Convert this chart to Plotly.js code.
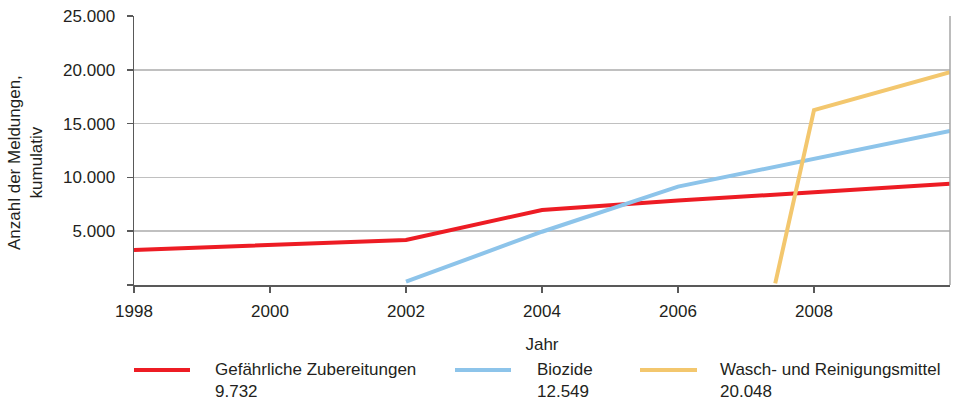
<!DOCTYPE html>
<html>
<head>
<meta charset="utf-8">
<script src="https://cdn.plot.ly/plotly-3.0.1.min.js"></script>
<style>html,body{margin:0;padding:0;background:#fff;}#chart{width:956px;height:400px;}</style>
</head>
<body>
<div id="chart"></div>
<script>
// Data
var seriesNames = ["Gefährliche Zubereitungen", "Biozide", "Wasch- und Reinigungsmittel"];
var seriesTotals = ["9.732", "12.549", "20.048"];
var seriesColors = ["#ED1C24", "#8DC4EA", "#F3C76E"];

var yearsZub = [1998, 2000, 2002, 2004, 2006, 2008, 2010];
var valsZub = [3250, 3720, 4180, 6970, 7850, 8620, 9400];

var yearsBio = [2002, 2004, 2006, 2008, 2010];
var valsBio = [310, 4950, 9140, 11680, 14310];

var yearsWasch = [2007.43, 2008, 2010];
var valsWasch = [150, 16260, 19770];

var xTickVals = [1998, 2000, 2002, 2004, 2006, 2008];
var xTickText = ["1998", "2000", "2002", "2004", "2006", "2008"];
var yTickVals = [0, 5000, 10000, 15000, 20000, 25000];
var yTickText = ["", "5.000", "10.000", "15.000", "20.000", "25.000"];

var font = "Liberation Sans, Arial, sans-serif";
var textColor = "#231f20";
var fs = 17;

var xs = [yearsZub, yearsBio, yearsWasch];
var ys = [valsZub, valsBio, valsWasch];
var traces = [];
for (var i = 0; i < 3; i++) {
  traces.push({
    x: xs[i], y: ys[i], type: "scatter", mode: "lines", name: seriesNames[i],
    line: {color: seriesColors[i], width: 4}, showlegend: false, hoverinfo: "skip"
  });
}

// manual legend layout (pixels converted to paper coords)
var L = 134, R = 950, T = 16, B = 285;
function px(x) { return (x - L) / (R - L); }
function py(y) { return (B - y) / (B - T); }
var legSym = [[134, 190], [455, 511], [640, 697]];
var legTxt = [213, 535, 718];

var shapes = [
  {type: "line", xref: "paper", yref: "paper", x0: 1, x1: 1, y0: 0, y1: 1,
   line: {color: "#a6a6a6", width: 1.5}}
];
var annotations = [
  {xref: "paper", yref: "paper", x: px(25), y: py(163), xanchor: "center", yanchor: "middle",
   text: "Anzahl der Meldungen,<br>kumulativ", textangle: -90, showarrow: false,
   font: {family: font, size: fs, color: textColor}}
];
for (var j = 0; j < 3; j++) {
  shapes.push({type: "line", xref: "paper", yref: "paper",
    x0: px(legSym[j][0]), x1: px(legSym[j][1]), y0: py(370), y1: py(370),
    line: {color: seriesColors[j], width: 4}});
  annotations.push({xref: "paper", yref: "paper", x: px(legTxt[j]), y: py(358),
    xanchor: "left", yanchor: "top", align: "left", showarrow: false,
    text: seriesNames[j] + "<br>" + seriesTotals[j],
    font: {family: font, size: fs, color: textColor}});
}

var layout = {
  width: 956, height: 400,
  margin: {l: L, r: 956 - R, t: T, b: 400 - B},
  paper_bgcolor: "#fff", plot_bgcolor: "#fff",
  font: {family: font, size: fs, color: textColor},
  showlegend: false,
  xaxis: {
    range: [1998, 2010], tickvals: xTickVals, ticktext: xTickText,
    showgrid: false, zeroline: false, showline: true, linecolor: "#595959", linewidth: 1.5,
    ticks: "outside", ticklen: 6, tickcolor: "#595959", tickwidth: 1.5,
    ticklabelstandoff: 4,
    tickfont: {family: font, size: fs, color: textColor},
    title: {text: "Jahr", font: {family: font, size: fs, color: textColor}, standoff: 18},
    fixedrange: true
  },
  yaxis: {
    range: [0, 25000], tickvals: yTickVals, ticktext: yTickText,
    showgrid: true, gridcolor: "#c0c0c0", gridwidth: 1.5, zeroline: false,
    showline: true, linecolor: "#595959", linewidth: 1.5,
    ticks: "outside", ticklen: 6, tickcolor: "#595959", tickwidth: 1.5,
    ticklabelstandoff: 8,
    tickfont: {family: font, size: fs, color: textColor},
    fixedrange: true
  },
  shapes: shapes,
  annotations: annotations
};

Plotly.newPlot("chart", traces, layout, {displayModeBar: false, staticPlot: true});
</script>
</body>
</html>
